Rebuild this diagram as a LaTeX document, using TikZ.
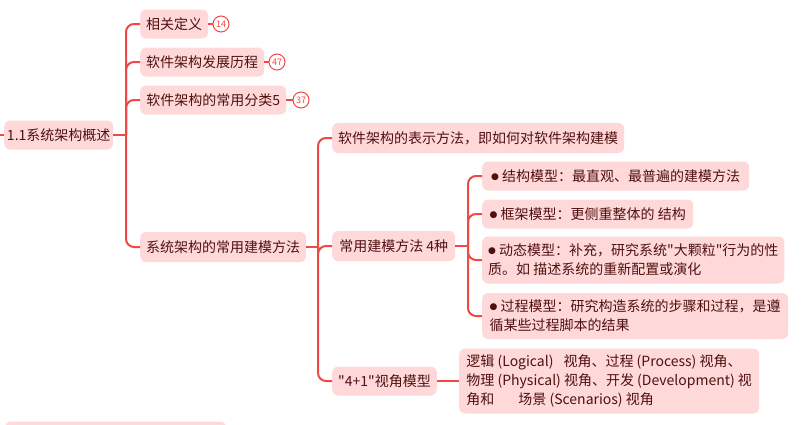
\documentclass[tikz,border=0pt]{standalone}
\usepackage{fontspec}
\setmainfont{Noto Sans CJK SC}
\newfontfamily\qfont{Noto Sans CJK SC}
\newfontfamily\bulfont{DejaVu Sans}
\definecolor{boxfill}{HTML}{FFD9D9}
\definecolor{txt}{HTML}{501010}
\definecolor{lin}{HTML}{F24843}
\newcommand{\bul}{\raisebox{2.2pt}{\bulfont\fontsize{9}{9}\selectfont ●}\ }
\newcommand{\qq}{{\qfont "}}
\begin{document}
\begin{tikzpicture}[x=1pt,y=-1pt,
  box/.style={fill=boxfill, rounded corners=6pt, anchor=west, text=txt,
    font=\fontsize{14}{19}\selectfont, inner xsep=6pt, inner ysep=0pt, minimum height=29pt},
  mbox/.style={box, align=left},
  conn/.style={draw=lin, line width=2pt, rounded corners=8pt},
  badge/.style={circle, draw=lin, line width=1pt, fill=white, text=lin,
    font=\fontsize{9}{9}\selectfont, inner sep=0pt, minimum size=16pt}]
\useasboundingbox (0,0) rectangle (811,424);
% root
\node[box, minimum width=109pt, inner xsep=2pt] (root) at (4,135) {1.1系统架构概述};
\node[box, minimum width=67pt] (a1) at (140,24) {相关定义};
\node[box, minimum width=123pt] (a2) at (140,62) {软件架构发展历程};
\node[box, minimum width=146pt] (a3) at (140,100) {软件架构的常用分类5};
\node[box, minimum width=165pt, minimum height=30pt] (a4) at (140,247) {系统架构的常用建模方法};
\node[badge] (b1) at (221,24) {14};
\node[badge] (b2) at (277,62) {47};
\node[badge] (b3) at (301,100) {37};
\node[box, minimum width=291pt, minimum height=30pt] (c1) at (332,138) {软件架构的表示方法，即如何对软件架构建模};
\node[box, minimum width=123pt, minimum height=30pt] (c2) at (332,246) {常用建模方法 4种};
\node[box, minimum width=100pt] (c3) at (332,381) {\qq 4+1\qq 视角模型};
\node[mbox, minimum width=300pt, minimum height=65pt] (d) at (459,381)
  {逻辑 (Logical)\hspace{10pt}视角、过程 (Process) 视角、\\物理 (Physical) 视角、开发 (Development) 视\\角和\hspace{24pt}场景 (Scenarios) 视角};
\node[box, minimum width=267pt] (e1) at (482,176) {\bul 结构模型：最直观、最普遍的建模方法};
\node[box, minimum width=211pt] (e2) at (482,214) {\bul 框架模型：更侧重整体的 结构};
\node[mbox, minimum width=301pt, minimum height=47pt] (e3) at (482,260)
  {\bul 动态模型：补充，研究系统\qq 大颗粒\qq 行为的性\\质。如 描述系统的重新配置或演化};
\node[mbox, minimum width=306pt, minimum height=46pt] (e4) at (482,316)
  {\bul 过程模型：研究构造系统的步骤和过程，是遵\\循某些过程脚本的结果};
\node[box, minimum width=221pt] (bot) at (5,436) {};
% connectors
\coordinate (lft) at (0,135);
\coordinate (t1) at (126,135);
\coordinate (t2) at (318,247);
\coordinate (t3) at (468,246);
\draw[conn] (lft) -- (root.west);
\draw[conn] (root.east) -- (t1);
\foreach \n in {a1,a2,a3,a4} \draw[conn] (t1) |- (\n.west);
\draw[conn] (a1.east) -- (b1.west);
\draw[conn] (a2.east) -- (b2.west);
\draw[conn] (a3.east) -- (b3.west);
\draw[conn] (a4.east) -- (t2);
\foreach \n in {c1,c2,c3} \draw[conn] (t2) |- (\n.west);
\draw[conn] (c3.east) -- (d.west);
\draw[conn] (c2.east) -- (t3);
\foreach \n in {e1,e2,e3,e4} \draw[conn] (t3) |- (\n.west);
\end{tikzpicture}
\end{document}
